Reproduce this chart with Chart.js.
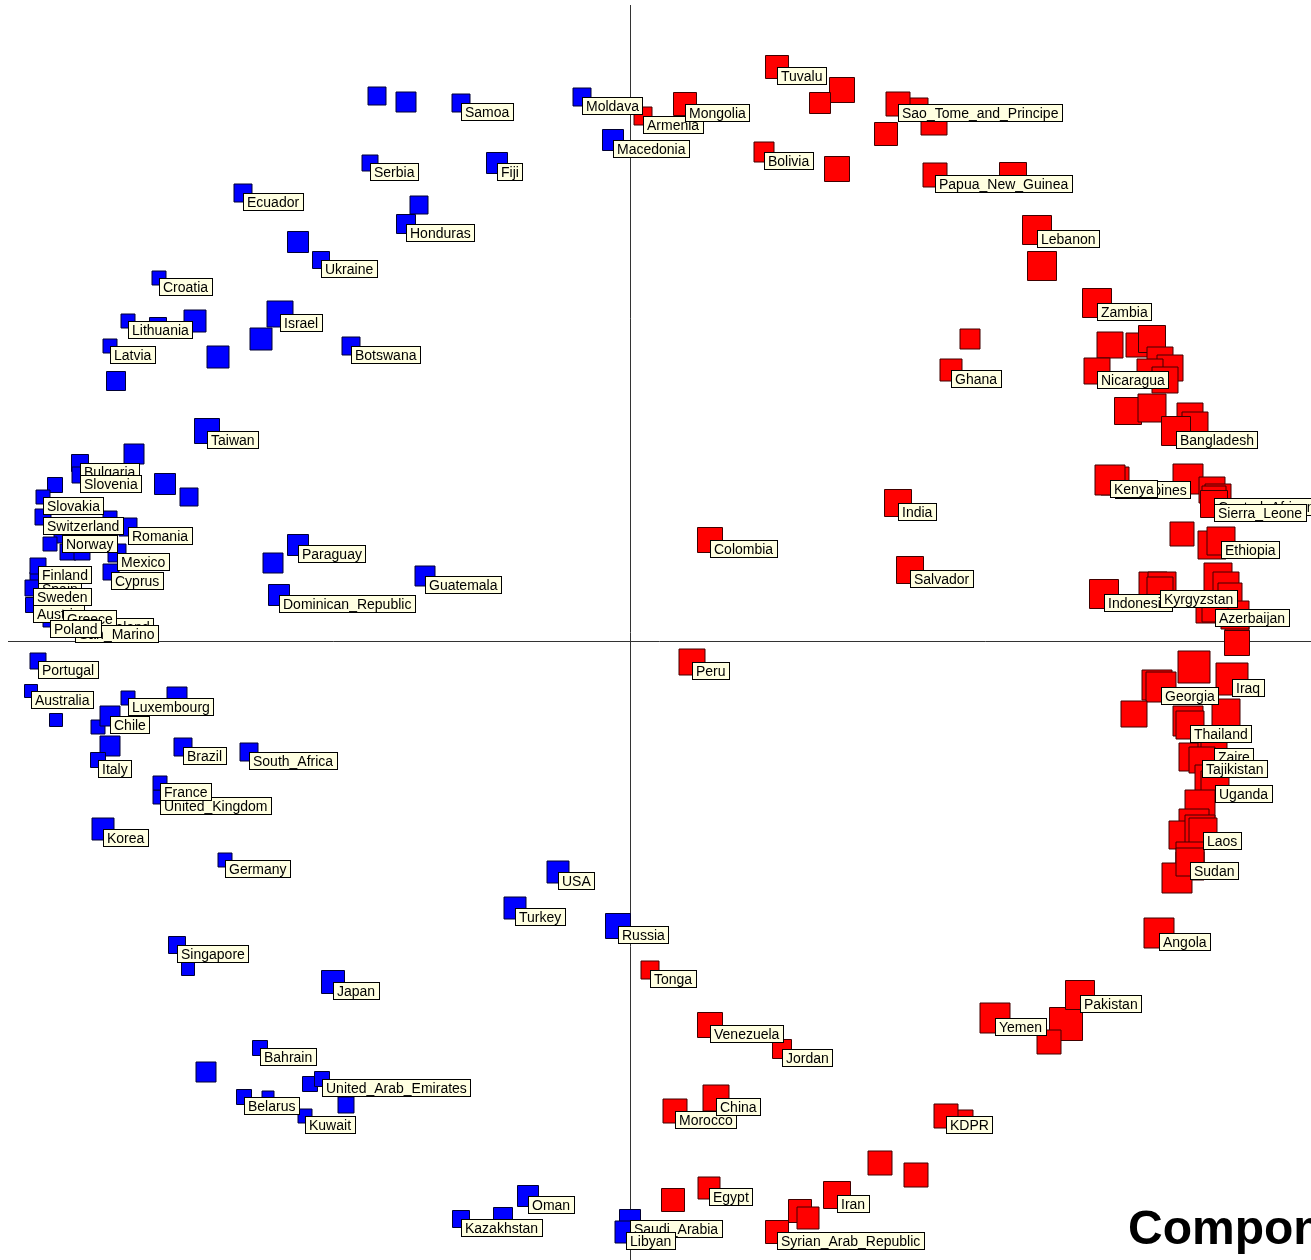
<!DOCTYPE html>
<html>
<head>
<meta charset="utf-8">
<script src="https://cdn.jsdelivr.net/npm/chart.js@4"></script>
<style>
  html, body { margin: 0; padding: 0; background: #fff; }
  #wrap { width: 1311px; height: 1260px; position: relative; }
</style>
</head>
<body>
<div id="wrap"><canvas id="pcaChart"></canvas></div>
<script>
// component scores; weight sets the square size
const blueNames = [
  "", "", "Samoa", "Moldava", "Macedonia", "Serbia", "Fiji", "Ecuador", "", "Honduras",
  "", "Ukraine", "Croatia", "Israel", "", "", "", "Lithuania", "Latvia", "",
  "", "Botswana", "Taiwan", "", "Bulgaria", "Slovenia", "", "", "", "Slovakia",
  "Switzerland", "", "Romania", "Norway", "", "", "", "Mexico", "Cyprus", "Spain",
  "Finland", "Sweden", "Austria", "Ireland", "Greece", "San_Marino", "Poland", "Portugal", "Australia", "",
  "Luxembourg", "", "", "Chile", "", "Italy", "Brazil", "South_Africa", "United_Kingdom", "France",
  "Korea", "Germany", "USA", "Turkey", "Russia", "Singapore", "", "Japan", "Bahrain", "",
  "", "United_Arab_Emirates", "", "Belarus", "", "Kuwait", "Oman", "", "Kazakhstan", "Saudi_Arabia",
  "Libyan", "Paraguay", "", "Guatemala", "Dominican_Republic"
];
const blueX = [
  -2.53, -2.24, -1.69, -0.48, -0.17, -2.60, -1.33, -3.87, -2.11, -2.24,
  -3.32, -3.09, -4.71, -3.50, -3.69, -4.35, -4.72, -5.02, -5.20, -5.14,
  -4.12, -2.79, -4.23, -4.96, -5.50, -5.50, -4.65, -4.41, -5.75, -5.87,
  -5.87, -5.20, -5.02, -5.68, -5.80, -5.62, -5.48, -5.13, -5.19, -5.92,
  -5.92, -5.97, -5.97, -5.27, -5.67, -5.55, -5.80, -5.92, -5.99, -5.74,
  -5.02, -4.53, -5.32, -5.20, -5.20, -5.32, -4.47, -3.81, -4.70, -4.70,
  -5.27, -4.05, -0.72, -1.15, -0.12, -4.53, -4.42, -2.97, -3.70, -4.24,
  -3.20, -3.08, -3.62, -3.86, -2.84, -3.25, -1.02, -1.27, -1.69, 0.00,
  -0.04, -3.32, -3.57, -2.05, -3.51
];
const blueY = [
  5.45, 5.39, 5.38, 5.44, 5.01, 4.78, 4.78, 4.48, 4.36, 4.17,
  3.99, 3.81, 3.63, 3.27, 3.02, 3.20, 3.15, 3.20, 2.95, 2.60,
  2.84, 2.95, 2.10, 1.87, 1.78, 1.66, 1.57, 1.44, 1.56, 1.44,
  1.24, 1.23, 1.14, 1.06, 0.97, 0.89, 0.89, 0.88, 0.69, 0.61,
  0.75, 0.53, 0.36, 0.23, 0.31, 0.16, 0.21, -0.20, -0.50, -0.79,
  -0.57, -0.56, -0.86, -0.75, -1.05, -1.19, -1.06, -1.11, -1.56, -1.42,
  -1.88, -2.19, -2.31, -2.67, -2.85, -3.04, -3.28, -3.41, -4.07, -4.31,
  -4.43, -4.38, -4.56, -4.56, -4.64, -4.75, -5.55, -5.76, -5.78, -5.79,
  -5.91, 0.96, 0.78, 0.65, 0.46
];
const blueWeight = [
  1.8, 2.0, 1.8, 1.8, 2.1, 1.6, 2.1, 1.8, 1.8, 1.9,
  2.1, 1.7, 1.4, 2.6, 2.2, 2.2, 1.7, 1.4, 1.4, 1.9,
  2.2, 1.8, 2.5, 2.0, 1.7, 1.6, 2.1, 1.8, 1.5, 1.4,
  1.6, 1.4, 1.8, 1.6, 1.4, 1.6, 1.6, 1.8, 1.6, 1.6,
  1.6, 1.6, 1.5, 1.4, 1.5, 1.4, 1.4, 1.6, 1.3, 1.3,
  1.4, 2.0, 1.4, 2.0, 2.0, 1.5, 1.8, 1.8, 1.4, 1.4,
  2.2, 1.4, 2.2, 2.2, 2.5, 1.7, 1.3, 2.3, 1.5, 2.0,
  1.5, 1.5, 1.2, 1.5, 1.6, 1.4, 2.1, 1.9, 1.7, 2.1,
  2.2, 2.1, 2.0, 2.0, 2.1
];

const redNames = [
  "Armenia", "Mongolia", "Tuvalu", "", "", "Bolivia", "", "", "", "",
  "Sao_Tome_and_Principe", "", "Papua_New_Guinea", "Lebanon", "", "Zambia", "", "Ghana", "", "",
  "", "", "", "", "", "Nicaragua", "", "", "", "",
  "Bangladesh", "India", "Colombia", "Salvador", "Philippines", "Kenya", "", "", "", "Central_African_Republic",
  "Sierra_Leone", "", "", "Ethiopia", "Indonesia", "", "", "Kyrgyzstan", "", "",
  "", "", "", "", "Azerbaijan", "", "Peru", "", "Iraq", "",
  "Georgia", "", "", "", "Thailand", "", "", "Zaire", "Tajikistan", "",
  "Uganda", "", "", "", "", "Laos", "", "", "", "Sudan",
  "Angola", "", "", "Pakistan", "Yemen", "Tonga", "Venezuela", "Jordan", "Morocco", "China",
  "", "KDPR", "", "", "", "Egypt", "Iran", "", "", "Syrian_Arab_Republic"
];
const redX = [
  0.13, 0.55, 1.47, 2.12, 1.90, 1.34, 2.07, 2.88, 3.04, 2.56,
  2.68, 3.83, 3.05, 4.07, 4.12, 4.67, 3.40, 3.21, 4.80, 5.08,
  5.22, 5.30, 5.40, 5.20, 5.35, 4.67, 4.98, 5.22, 5.60, 5.65,
  5.46, 2.68, 0.80, 2.80, 4.85, 4.80, 5.58, 5.82, 5.88, 5.84,
  5.84, 5.52, 5.82, 5.91, 4.74, 5.23, 5.32, 5.30, 5.88, 5.96,
  6.00, 5.77, 6.07, 6.05, 5.85, 6.07, 0.62, 5.64, 6.02, 5.27,
  5.31, 5.04, 5.58, 5.96, 5.60, 5.63, 5.82, 5.84, 5.72, 5.80,
  5.85, 5.70, 5.64, 5.53, 5.70, 5.73, 5.60, 5.60, 5.47, 5.60,
  5.29, 4.36, 4.19, 4.50, 3.65, 0.20, 0.80, 1.52, 0.45, 0.86,
  3.33, 3.16, 2.50, 2.86, 0.43, 0.79, 2.07, 1.70, 1.78, 1.47
];
const redY = [
  5.25, 5.37, 5.74, 5.51, 5.38, 4.89, 4.72, 5.33, 5.19, 5.07,
  5.37, 4.65, 4.66, 4.11, 3.75, 3.38, 3.02, 2.71, 2.96, 2.96,
  3.02, 2.81, 2.73, 2.69, 2.61, 2.70, 2.30, 2.33, 2.25, 2.16,
  2.10, 1.38, 1.01, 0.71, 1.60, 1.61, 1.62, 1.51, 1.44, 1.43,
  1.37, 1.07, 0.96, 1.00, 0.47, 0.55, 0.55, 0.51, 0.64, 0.56,
  0.46, 0.29, 0.13, 0.26, 0.32, -0.02, -0.21, -0.26, -0.38, -0.44,
  -0.46, -0.73, -0.80, -0.72, -0.84, -1.16, -1.11, -1.07, -1.19, -1.39,
  -1.44, -1.64, -1.83, -1.94, -1.89, -1.91, -2.15, -2.25, -2.37, -2.21,
  -2.92, -3.83, -4.01, -3.54, -3.77, -3.29, -3.84, -4.08, -4.70, -4.57,
  -4.79, -4.75, -5.22, -5.34, -5.59, -5.47, -5.54, -5.70, -5.77, -5.91
];
const redWeight = [
  1.8, 2.3, 2.3, 2.5, 2.1, 2.0, 2.5, 2.0, 2.6, 2.3,
  2.4, 2.7, 2.4, 2.9, 2.9, 2.9, 2.0, 2.2, 2.6, 2.4,
  2.7, 2.6, 2.6, 2.6, 2.6, 2.6, 2.7, 2.8, 2.6, 2.6,
  2.9, 2.7, 2.5, 2.7, 2.8, 3.0, 3.0, 2.6, 2.6, 2.4,
  2.7, 2.4, 2.8, 2.8, 2.9, 2.8, 2.8, 2.6, 2.8, 2.6,
  2.4, 2.2, 2.4, 2.8, 2.6, 2.5, 2.6, 3.2, 3.2, 3.0,
  3.0, 2.6, 3.0, 2.8, 2.8, 2.8, 2.8, 2.6, 2.6, 3.0,
  2.8, 3.0, 3.0, 2.8, 3.0, 2.8, 2.8, 2.8, 3.0, 2.8,
  3.0, 3.3, 2.4, 2.9, 3.0, 1.8, 2.5, 1.9, 2.4, 2.6,
  2.0, 2.4, 2.4, 2.4, 2.3, 2.2, 2.7, 2.3, 2.2, 2.3
];

const axisTitle = "Component 1";

const toPoints = (xs, ys) => xs.map((x, i) => ({ x: x, y: ys[i] }));
// rect point style: side = 2 * radius * SQRT1_2
const radiusOf = (w) => (w * 10) / (2 * Math.SQRT1_2);

const labelBoxes = {
  id: "labelBoxes",
  afterDatasetsDraw(chart) {
    const ctx = chart.ctx;
    ctx.save();
    ctx.font = '14px "Liberation Sans", Arial, sans-serif';
    ctx.textBaseline = "alphabetic";
    ctx.lineWidth = 1;
    // red labels first so blue ones (Moldava) sit on top of Armenia
    [1, 0].forEach((di) => {
      const names = chart.data.datasets[di].names;
      chart.getDatasetMeta(di).data.forEach((pt, i) => {
        const name = names[i];
        if (!name) return;
        const x = Math.round(pt.x);
        const y = Math.round(pt.y);
        const w = Math.ceil(ctx.measureText(name).width) + 8;
        ctx.fillStyle = "#ffffe1";
        ctx.fillRect(x, y, w, 18);
        ctx.strokeStyle = "#000";
        ctx.strokeRect(x + 0.5, y + 0.5, w - 1, 17);
        ctx.fillStyle = "#000";
        ctx.fillText(name, x + 4, y + 14);
      });
    });
    ctx.restore();
  },
  afterDraw(chart) {
    const ctx = chart.ctx;
    ctx.save();
    ctx.font = 'bold 48px "Liberation Sans", Arial, sans-serif';
    ctx.fillStyle = "#000";
    ctx.textBaseline = "alphabetic";
    ctx.fillText(axisTitle, 1128, 1244);
    ctx.restore();
  },
};

const zeroOnly = (scale) => { scale.ticks = [{ value: 0 }]; };

new Chart(document.getElementById("pcaChart"), {
  type: "scatter",
  data: {
    datasets: [
      {
        label: "blue",
        names: blueNames,
        data: toPoints(blueX, blueY),
        pointStyle: "rect",
        pointRadius: blueWeight.map(radiusOf),
        backgroundColor: "#0000ff",
        borderColor: "#000033",
        borderWidth: 1,
        clip: false,
      },
      {
        label: "red",
        names: redNames,
        data: toPoints(redX, redY),
        pointStyle: "rect",
        pointRadius: redWeight.map(radiusOf),
        backgroundColor: "#ff0000",
        borderColor: "#400000",
        borderWidth: 1,
        clip: false,
      },
    ],
  },
  options: {
    responsive: true,
    maintainAspectRatio: false,
    animation: false,
    events: [],
    layout: { autoPadding: false, padding: { left: 8, top: 5, right: 0, bottom: 0 } },
    plugins: { legend: { display: false }, tooltip: { enabled: false } },
    scales: {
      x: {
        type: "linear", min: -6.22, max: 6.81,
        afterBuildTicks: zeroOnly,
        ticks: { display: false },
        grid: { color: "#333", lineWidth: 1, drawTicks: false },
        border: { display: false },
      },
      y: {
        type: "linear", min: -6.19, max: 6.36,
        afterBuildTicks: zeroOnly,
        ticks: { display: false },
        grid: { color: "#333", lineWidth: 1, drawTicks: false },
        border: { display: false },
      },
    },
  },
  plugins: [labelBoxes],
});
</script>
</body>
</html>
